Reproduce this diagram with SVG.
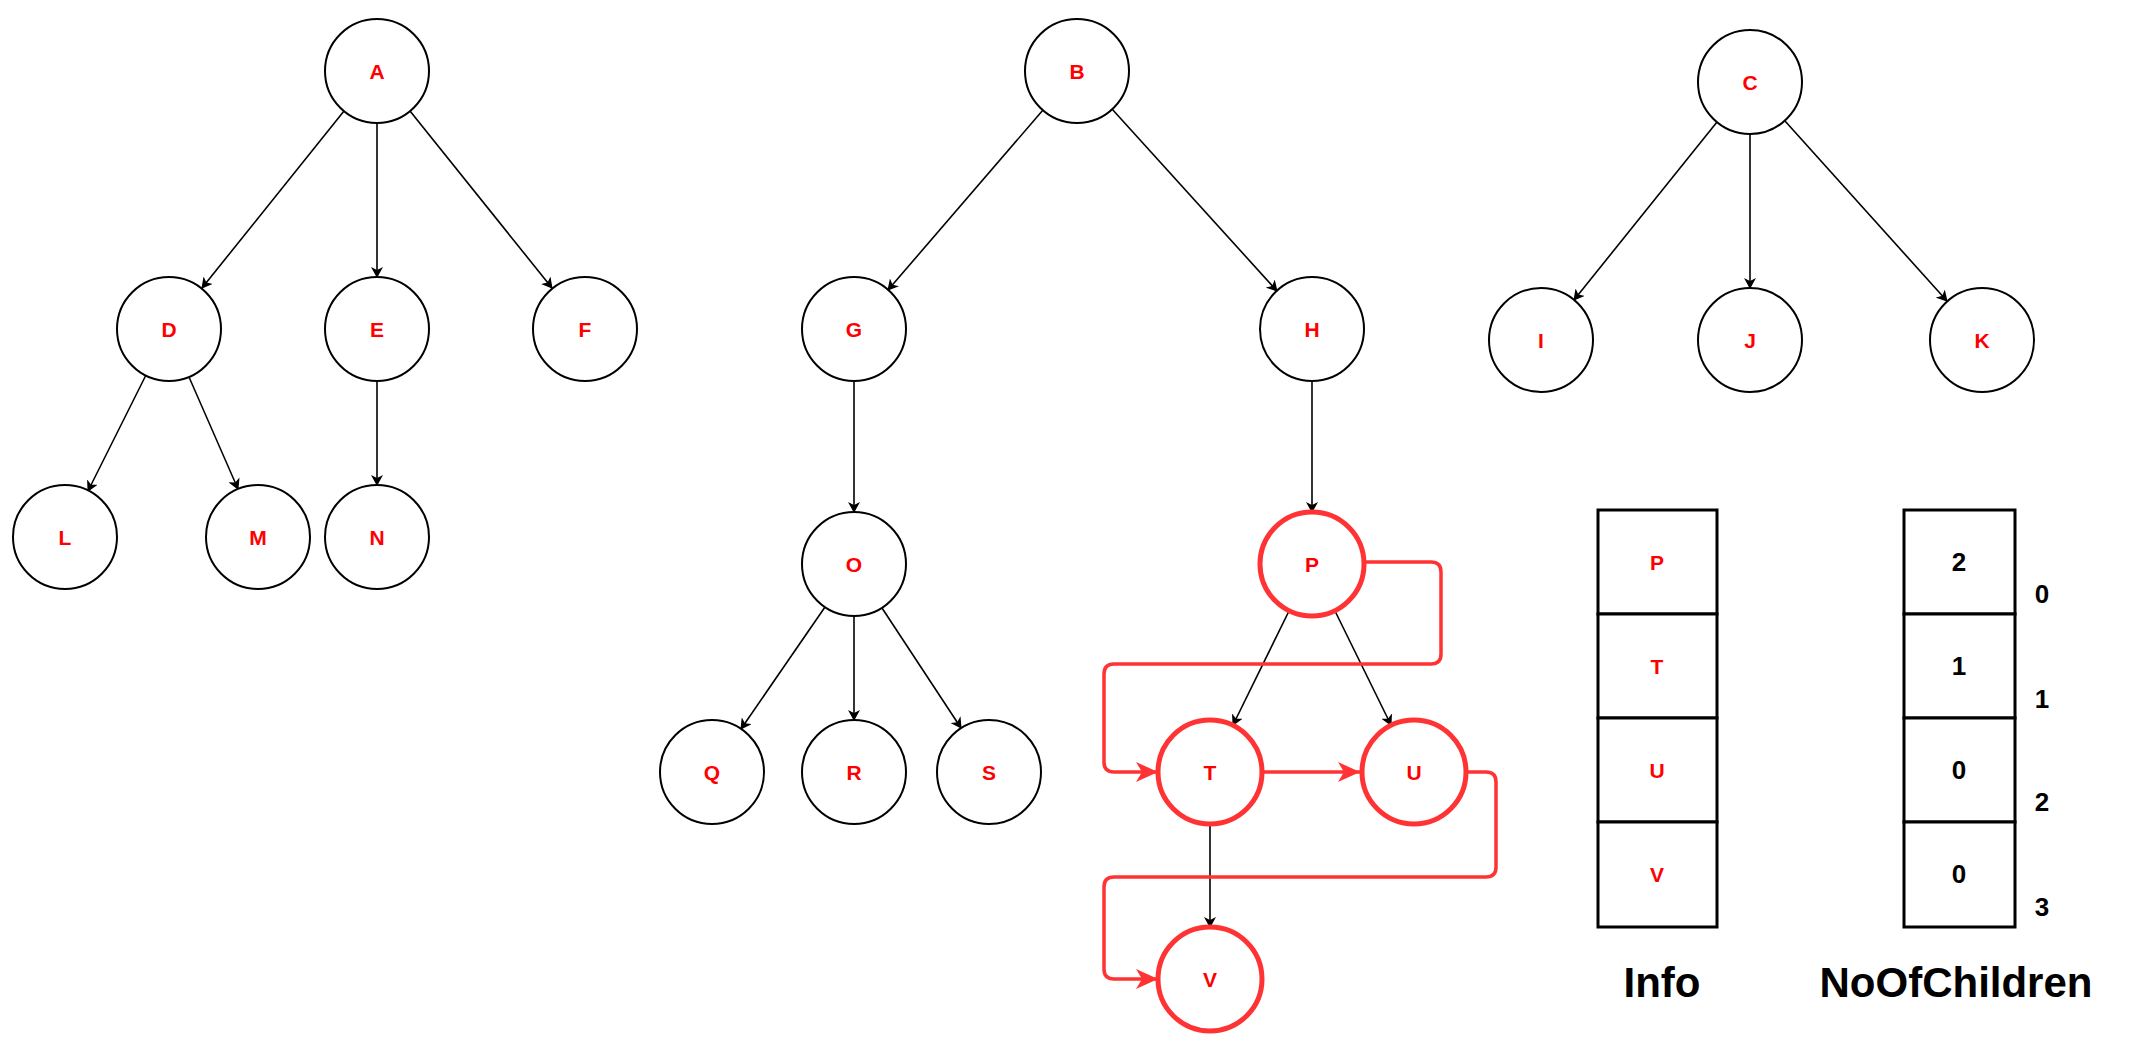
<svg xmlns="http://www.w3.org/2000/svg" width="2132" height="1046" viewBox="0 0 2132 1046">
<style>
.n{fill:#fff;stroke:#000;stroke-width:2}
.h{fill:#fff;stroke:#ff3333;stroke-width:5}
.t{font-family:"Liberation Sans",Arial,sans-serif;font-weight:bold;font-size:21px;fill:#ff0000;text-anchor:middle;dominant-baseline:central}
.e{stroke:#000;stroke-width:1.6;fill:none;marker-end:url(#ab)}
.r{stroke:#ff3333;stroke-width:3.5;fill:none;stroke-linejoin:round;marker-end:url(#ar)}
.c{fill:#fff;stroke:#000;stroke-width:3}
.k{font-family:"Liberation Sans",Arial,sans-serif;font-weight:bold;font-size:26px;fill:#000;text-anchor:middle;dominant-baseline:central}
.lb{font-family:"Liberation Sans",Arial,sans-serif;font-weight:bold;font-size:42px;fill:#000;text-anchor:middle;dominant-baseline:central}
</style>
<defs>
<marker id="ab" markerWidth="12" markerHeight="12" refX="10" refY="6" orient="auto" markerUnits="userSpaceOnUse"><path d="M0,0 L11,6 L0,12 L3,6 Z" fill="#000"/></marker>
<marker id="ar" markerWidth="24" markerHeight="20" refX="22" refY="10" orient="auto" markerUnits="userSpaceOnUse"><path d="M0,0 L22,10 L0,20 L6,10 Z" fill="#ff3333"/></marker>
</defs>
<g id="connectors">
<line class="e" x1="344" y1="111" x2="202" y2="288"/>
<line class="e" x1="377" y1="123" x2="377" y2="277"/>
<line class="e" x1="410" y1="111" x2="552" y2="288"/>
<line class="e" x1="146" y1="375" x2="88" y2="491"/>
<line class="e" x1="189" y1="377" x2="238" y2="489"/>
<line class="e" x1="377" y1="381" x2="377" y2="485"/>
<line class="e" x1="1043" y1="110" x2="888" y2="290"/>
<line class="e" x1="1112" y1="109" x2="1277" y2="291"/>
<line class="e" x1="854" y1="381" x2="854" y2="512"/>
<line class="e" x1="1312" y1="381" x2="1312" y2="512"/>
<line class="e" x1="825" y1="607" x2="741" y2="729"/>
<line class="e" x1="854" y1="616" x2="854" y2="720"/>
<line class="e" x1="882" y1="608" x2="961" y2="728"/>
<line class="e" x1="1289" y1="611" x2="1233" y2="725"/>
<line class="e" x1="1335" y1="611" x2="1391" y2="725"/>
<line class="e" x1="1210" y1="824" x2="1210" y2="927"/>
<line class="e" x1="1717" y1="122" x2="1574" y2="300"/>
<line class="e" x1="1750" y1="134" x2="1750" y2="288"/>
<line class="e" x1="1785" y1="121" x2="1947" y2="301"/>
<path class="r" d="M1364,562 H1431 Q1441,562 1441,572 V654 Q1441,664 1431,664 H1114 Q1104,664 1104,674 V762 Q1104,772 1114,772 H1158"/>
<line class="r" x1="1262" y1="772" x2="1360" y2="772"/>
<path class="r" d="M1466,772 H1486 Q1496,772 1496,782 V867 Q1496,877 1486,877 H1114 Q1104,877 1104,887 V969 Q1104,979 1114,979 H1158"/>
</g>
<g id="A"><circle class="n" cx="377" cy="71" r="52"/><text class="t" x="377" y="71">A</text></g>
<g id="D"><circle class="n" cx="169" cy="329" r="52"/><text class="t" x="169" y="329">D</text></g>
<g id="E"><circle class="n" cx="377" cy="329" r="52"/><text class="t" x="377" y="329">E</text></g>
<g id="F"><circle class="n" cx="585" cy="329" r="52"/><text class="t" x="585" y="329">F</text></g>
<g id="L"><circle class="n" cx="65" cy="537" r="52"/><text class="t" x="65" y="537">L</text></g>
<g id="M"><circle class="n" cx="258" cy="537" r="52"/><text class="t" x="258" y="537">M</text></g>
<g id="N"><circle class="n" cx="377" cy="537" r="52"/><text class="t" x="377" y="537">N</text></g>
<g id="B"><circle class="n" cx="1077" cy="71" r="52"/><text class="t" x="1077" y="71">B</text></g>
<g id="G"><circle class="n" cx="854" cy="329" r="52"/><text class="t" x="854" y="329">G</text></g>
<g id="H"><circle class="n" cx="1312" cy="329" r="52"/><text class="t" x="1312" y="329">H</text></g>
<g id="O"><circle class="n" cx="854" cy="564" r="52"/><text class="t" x="854" y="564">O</text></g>
<g id="Q"><circle class="n" cx="712" cy="772" r="52"/><text class="t" x="712" y="772">Q</text></g>
<g id="R"><circle class="n" cx="854" cy="772" r="52"/><text class="t" x="854" y="772">R</text></g>
<g id="S"><circle class="n" cx="989" cy="772" r="52"/><text class="t" x="989" y="772">S</text></g>
<g id="P"><circle class="h" cx="1312" cy="564" r="52"/><text class="t" x="1312" y="564">P</text></g>
<g id="T"><circle class="h" cx="1210" cy="772" r="52"/><text class="t" x="1210" y="772">T</text></g>
<g id="U"><circle class="h" cx="1414" cy="772" r="52"/><text class="t" x="1414" y="772">U</text></g>
<g id="V"><circle class="h" cx="1210" cy="979" r="52"/><text class="t" x="1210" y="979">V</text></g>
<g id="C"><circle class="n" cx="1750" cy="82" r="52"/><text class="t" x="1750" y="82">C</text></g>
<g id="I"><circle class="n" cx="1541" cy="340" r="52"/><text class="t" x="1541" y="340">I</text></g>
<g id="J"><circle class="n" cx="1750" cy="340" r="52"/><text class="t" x="1750" y="340">J</text></g>
<g id="K"><circle class="n" cx="1982" cy="340" r="52"/><text class="t" x="1982" y="340">K</text></g>
<g id="info">
<rect class="c" x="1598" y="510" width="119" height="104"/><text class="t" x="1657" y="562">P</text>
<rect class="c" x="1598" y="614" width="119" height="104"/><text class="t" x="1657" y="666">T</text>
<rect class="c" x="1598" y="718" width="119" height="104"/><text class="t" x="1657" y="770">U</text>
<rect class="c" x="1598" y="822" width="119" height="105"/><text class="t" x="1657" y="874">V</text>
<text class="lb" x="1662" y="982">Info</text>
</g>
<g id="children">
<rect class="c" x="1904" y="510" width="111" height="104"/><text class="k" x="1959" y="562">2</text>
<rect class="c" x="1904" y="614" width="111" height="104"/><text class="k" x="1959" y="666">1</text>
<rect class="c" x="1904" y="718" width="111" height="104"/><text class="k" x="1959" y="770">0</text>
<rect class="c" x="1904" y="822" width="111" height="105"/><text class="k" x="1959" y="874">0</text>
<text class="k" x="2042" y="594">0</text>
<text class="k" x="2042" y="699">1</text>
<text class="k" x="2042" y="802">2</text>
<text class="k" x="2042" y="907">3</text>
<text class="lb" x="1956" y="982">NoOfChildren</text>
</g>
</svg>
